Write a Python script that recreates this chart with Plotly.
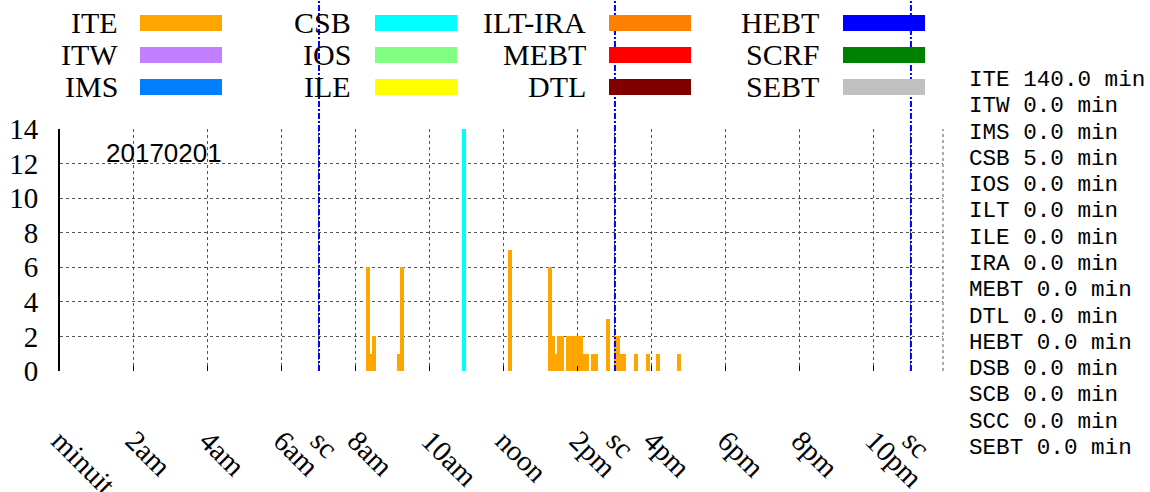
import plotly.graph_objects as go

# ---------------- data ----------------
# ITE occupancy bars: start minute, end minute (since midnight), value
ite_start = [496, 503, 506, 546, 551, 726, 791, 798, 803, 806, 820, 848, 861, 885, 898, 908, 931, 950, 966, 1000]
ite_end = [503, 506, 512, 551, 558, 733, 798, 803, 806, 817, 848, 858, 872, 892, 908, 918, 937, 957, 973, 1007]
ite_value = [6, 1, 2, 1, 6, 7, 6, 2, 1, 2, 2, 1, 1, 3, 2, 1, 1, 1, 1, 1]

# CSB bar
csb_start = [652]
csb_end = [658]
csb_value = [14]

# shift changes (minutes since midnight)
shift_minutes = [420, 900, 1380]
shift_label = "sc"

# x tick labels every two hours
hour_tick_minutes = [0, 120, 240, 360, 480, 600, 720, 840, 960, 1080, 1200, 1320]
hour_tick_labels = ["minuit", "2am", "4am", "6am", "8am", "10am", "noon", "2pm", "4pm", "6pm", "8pm", "10pm"]

date_label = "20170201"

# legend
legend_names = ["ITE", "ITW", "IMS", "CSB", "IOS", "ILE", "ILT-IRA", "MEBT", "DTL", "HEBT", "SCRF", "SEBT"]
legend_colors = ["#ffa500", "#c080ff", "#0080ff", "#00ffff", "#80ff80", "#ffff00",
                 "#ff8000", "#ff0000", "#800000", "#0000ff", "#008000", "#c0c0c0"]

# summary on the right
summary_names = ["ITE", "ITW", "IMS", "CSB", "IOS", "ILT", "ILE", "IRA", "MEBT", "DTL", "HEBT", "DSB", "SCB", "SCC", "SEBT"]
summary_minutes = [140.0, 0.0, 0.0, 5.0, 0.0, 0.0, 0.0, 0.0, 0.0, 0.0, 0.0, 0.0, 0.0, 0.0, 0.0]

# ---------------- layout geometry ----------------
W, H = 1150, 492
PL, PR, PT, PB = 60, 943, 129, 371
X_MAX = 1432


def px(x):
    return (x - PL) / (PR - PL)


def py(y):
    return (PB - y) / (PB - PT)


fig = go.Figure()

fig.add_trace(go.Bar(
    x=[(s + e) / 2 for s, e in zip(ite_start, ite_end)],
    y=ite_value,
    width=[e - s for s, e in zip(ite_start, ite_end)],
    marker=dict(color="#ffa500", line=dict(width=0)),
    name="ITE", showlegend=False,
))
fig.add_trace(go.Bar(
    x=[(s + e) / 2 for s, e in zip(csb_start, csb_end)],
    y=csb_value,
    width=[e - s for s, e in zip(csb_start, csb_end)],
    marker=dict(color="#00ffff", line=dict(width=0)),
    name="CSB", showlegend=False,
))

# right edge (dotted, like grid)
fig.add_shape(type="line", xref="paper", yref="paper", x0=1, x1=1, y0=0, y1=1,
              line=dict(color="#555555", width=1, dash="dot"), layer="below")

# shift lines
for m in shift_minutes:
    fig.add_shape(type="line", xref="x", yref="paper", x0=m, x1=m, y0=0, y1=py(0),
                  line=dict(color="#0000ff", width=2, dash="6px,2px,2px,2px"), layer="above")

tickvals = hour_tick_minutes + shift_minutes
ticktext = hour_tick_labels + [shift_label] * len(shift_minutes)

annotations = []
# date label
annotations.append(dict(xref="paper", yref="paper", x=px(104), y=py(153), xanchor="left", yanchor="middle",
                        text=date_label, showarrow=False,
                        font=dict(family="Liberation Sans", size=26, color="black")))

# custom legend
col_label_right = [120, 353, 588, 821]
col_swatch_left = [140, 375, 609, 843]
row_center = [23, 55, 87]
sw_w, sw_h = 82, 16
for i, (n, c) in enumerate(zip(legend_names, legend_colors)):
    col, row = i // 3, i % 3
    yc = row_center[row]
    annotations.append(dict(xref="paper", yref="paper", x=px(col_label_right[col]), y=py(yc),
                            xanchor="right", yanchor="middle", text=n, showarrow=False,
                            font=dict(family="Liberation Serif", size=30, color="black")))
    fig.add_shape(type="rect", xref="paper", yref="paper",
                  x0=px(col_swatch_left[col]), x1=px(col_swatch_left[col] + sw_w),
                  y0=py(yc + sw_h / 2), y1=py(yc - sw_h / 2),
                  line=dict(width=0), fillcolor=c)

# summary text
for i, (n, v) in enumerate(zip(summary_names, summary_minutes)):
    yc = 80 + i * 26.29
    annotations.append(dict(xref="paper", yref="paper", x=px(967), y=py(yc), xanchor="left", yanchor="middle",
                            text=f"{n} {v:.1f} min", showarrow=False,
                            font=dict(family="Liberation Mono", size=22.6, color="black")))

fig.update_layout(
    width=W, height=H,
    margin=dict(l=PL, r=W - PR, t=PT, b=H - PB, pad=0, autoexpand=False),
    paper_bgcolor="white", plot_bgcolor="white",
    barmode="overlay", bargap=0,
    showlegend=False,
    font=dict(family="Liberation Serif", size=29, color="black"),
    annotations=annotations,
)
fig.update_xaxes(
    range=[0, X_MAX], tickvals=tickvals, ticktext=ticktext, automargin=False,
    tickangle=45, ticks="inside", ticklen=5, tickcolor="black", tickwidth=1,
    showgrid=True, gridcolor="#555555", griddash="dot", gridwidth=1,
    showline=False, zeroline=False, ticklabelstandoff=46,
    tickfont=dict(family="Liberation Serif", size=29, color="black"),
)
fig.update_yaxes(
    range=[0, 14], dtick=2, tick0=0, automargin=False,
    showgrid=True, gridcolor="#555555", griddash="dot", gridwidth=1,
    showline=True, linecolor="black", linewidth=2, mirror=False,
    zeroline=False, ticks="", ticklabelstandoff=14,
    tickfont=dict(family="Liberation Serif", size=29, color="black"),
)

fig.write_html("out.html", config={"displayModeBar": False},
               post_script="document.body.style.margin='0';")
